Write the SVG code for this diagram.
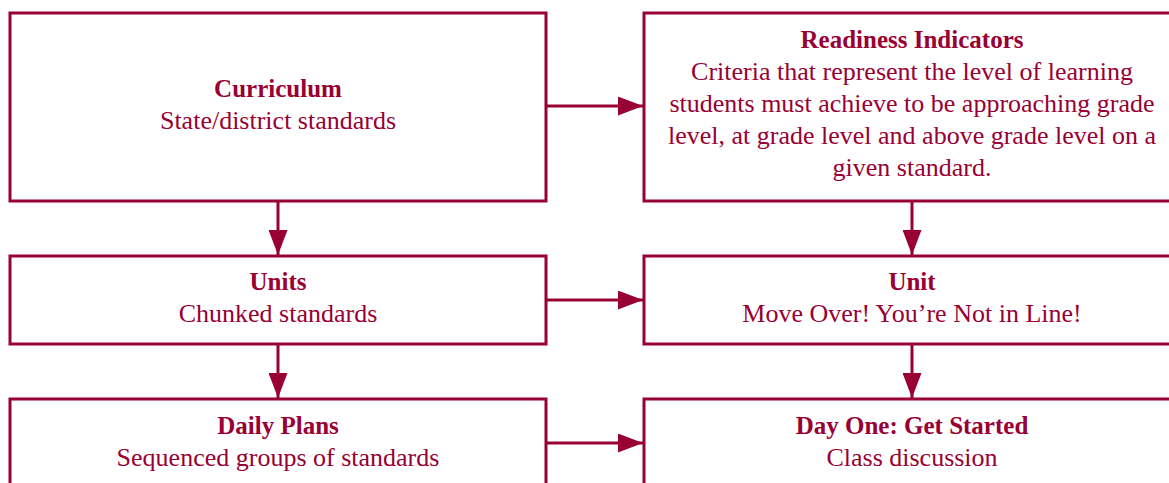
<svg xmlns="http://www.w3.org/2000/svg" width="1169" height="483" viewBox="0 0 1169 483">
  <style>
    .box { fill: #ffffff; stroke: #990033; stroke-width: 3; }
    .link { fill: none; stroke: #990033; stroke-width: 3; }
    text { font-family: "Liberation Serif", "Times New Roman", serif; font-size: 26px; fill: #990033; text-anchor: middle; }
    .title { font-weight: bold; font-size: 25px; }
  </style>
  <defs>
    <marker id="arrow" viewBox="0 0 25 19" refX="25" refY="9.5" markerWidth="25" markerHeight="19" markerUnits="userSpaceOnUse" orient="auto">
      <path d="M0,0 L25,9.5 L0,19 Z" fill="#990033"/>
    </marker>
  </defs>

  <rect width="1169" height="483" fill="#ffffff"/>

  <!-- Left column: curriculum chain -->
  <g id="curriculum">
    <rect class="box" x="10" y="13" width="536" height="188"/>
    <text class="title" x="278" y="97">Curriculum</text>
    <text x="278" y="129">State/district standards</text>
  </g>
  <g id="units">
    <rect class="box" x="10" y="256" width="536" height="88"/>
    <text class="title" x="278" y="290">Units</text>
    <text x="278" y="322">Chunked standards</text>
  </g>
  <g id="daily-plans">
    <rect class="box" x="10" y="399" width="536" height="120"/>
    <text class="title" x="278" y="434">Daily Plans</text>
    <text x="278" y="466">Sequenced groups of standards</text>
  </g>

  <!-- Right column: classroom instances -->
  <g id="readiness-indicators">
    <rect class="box" x="644" y="13" width="536" height="188"/>
    <text class="title" x="912" y="48">Readiness Indicators</text>
    <text x="912" y="80">Criteria that represent the level of learning</text>
    <text x="912" y="112">students must achieve to be approaching grade</text>
    <text x="912" y="144">level, at grade level and above grade level on a</text>
    <text x="912" y="176">given standard.</text>
  </g>
  <g id="unit">
    <rect class="box" x="644" y="256" width="536" height="88"/>
    <text class="title" x="912" y="290">Unit</text>
    <text x="912" y="322">Move Over! You’re Not in Line!</text>
  </g>
  <g id="day-one">
    <rect class="box" x="644" y="399" width="536" height="120"/>
    <text class="title" x="912" y="434">Day One: Get Started</text>
    <text x="912" y="466">Class discussion</text>
  </g>

  <!-- Connectors -->
  <g id="connectors">
    <path class="link" d="M546,106 L643,106" marker-end="url(#arrow)"/>
    <path class="link" d="M546,300 L643,300" marker-end="url(#arrow)"/>
    <path class="link" d="M546,443 L643,443" marker-end="url(#arrow)"/>
    <path class="link" d="M278,201 L278,255" marker-end="url(#arrow)"/>
    <path class="link" d="M278,344 L278,398" marker-end="url(#arrow)"/>
    <path class="link" d="M912,201 L912,255" marker-end="url(#arrow)"/>
    <path class="link" d="M912,344 L912,398" marker-end="url(#arrow)"/>
  </g>
</svg>
